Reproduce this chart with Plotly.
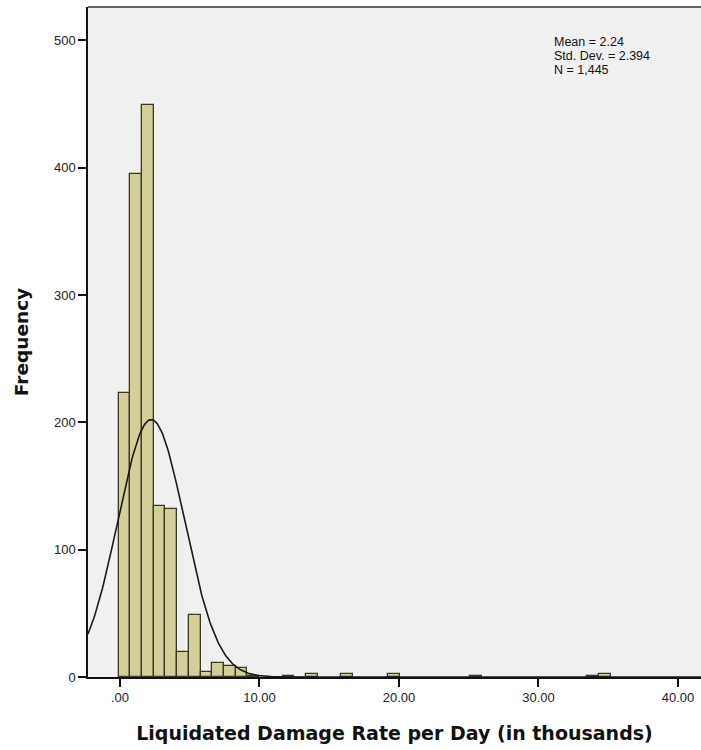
import numpy as np
import plotly.graph_objects as go

# ---- data ----
bin_start = -0.1
bin_width = 0.84
bin_counts = [223, 395, 449, 134, 132, 20, 49, 4, 11, 9, 7, 1, 0, 0, 1, 0, 2, 0, 0, 2,
              0, 0, 0, 2, 0, 0, 0, 0, 0, 0, 1, 0, 0, 0, 0, 0, 0, 0, 0, 0, 1, 2]
stat_mean = 2.24
stat_sd = 2.394
stat_n = 1445
stat_lines = ["Mean = 2.24", "Std. Dev. = 2.394", "N = 1,445"]
x_tick_vals = [0, 10, 20, 30, 40]
x_tick_text = [".00", "10.00", "20.00", "30.00", "40.00"]
y_tick_vals = [0, 100, 200, 300, 400, 500]

# ---- build bars ----
centers, heights = [], []
for k, c in enumerate(bin_counts):
    if c > 0:
        centers.append(bin_start + bin_width * (k + 0.5))
        heights.append(c)

xr = [-2.29, 41.65]
xs = np.linspace(xr[0], xr[1], 600)
ys = stat_n * bin_width / (stat_sd * np.sqrt(2 * np.pi)) * np.exp(-0.5 * ((xs - stat_mean) / stat_sd) ** 2)

fig = go.Figure()
fig.add_trace(go.Bar(
    x=centers, y=heights, width=bin_width,
    marker=dict(color="#D4CF98", line=dict(color="#3A3A22", width=1.3)),
    hoverinfo="x+y", showlegend=False,
))
fig.add_trace(go.Scatter(
    x=xs, y=ys, mode="lines", line=dict(color="#1a1a1a", width=1.6),
    hoverinfo="skip", showlegend=False,
))

fig.add_shape(type="line", xref="paper", yref="paper", x0=0, x1=1, y0=1, y1=1,
              line=dict(color="#666666", width=2))

# stats box: three lines, tight spacing
plot_h = 670.0
for i, t in enumerate(stat_lines):
    ypx = 42 + 14 * i  # pixel centre from top of page
    fig.add_annotation(
        xref="x", yref="paper", x=31.0, y=(677 - ypx) / plot_h,
        xanchor="left", yanchor="middle", text=t, showarrow=False, align="left",
        font=dict(family="Liberation Sans, Arial", size=12.5, color="#111111"),
    )

fig.update_layout(
    width=701, height=750,
    margin=dict(l=88, r=0, t=7, b=73),
    paper_bgcolor="white", plot_bgcolor="#F0F0F0",
    bargap=0,
    font=dict(family="Liberation Sans, Arial", size=13, color="#111111"),
)
fig.update_xaxes(
    range=xr, tickvals=x_tick_vals, ticktext=x_tick_text,
    showgrid=False, zeroline=False, showline=True, linecolor="#111111", linewidth=1.5,
    ticks="outside", ticklen=8, tickcolor="#111111", tickwidth=1.5,
    tickfont=dict(size=13, color="#222222"),
    title=dict(text="<b>Liquidated Damage Rate per Day (in thousands)</b>",
               font=dict(family="DejaVu Sans", size=19, color="#111111"), standoff=22),
)
fig.update_yaxes(
    range=[0, 526.3], tickvals=y_tick_vals,
    showgrid=False, zeroline=False, showline=True, linecolor="#111111", linewidth=1.5,
    ticks="outside", ticklen=8, tickcolor="#111111", tickwidth=1.5,
    tickfont=dict(size=13, color="#222222"),
    title=dict(text="<b>Frequency</b>", font=dict(family="DejaVu Sans", size=18.5, color="#111111"),
               standoff=20),
)

fig.write_html("out.html")
